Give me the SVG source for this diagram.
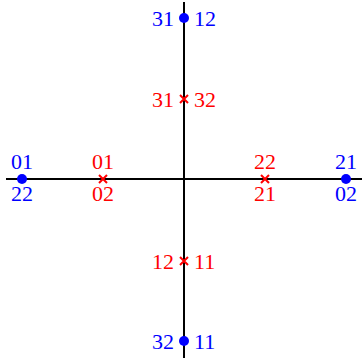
<svg xmlns="http://www.w3.org/2000/svg" width="362" height="362" viewBox="0 0 362 362">
<style>
text{font-family:"Liberation Serif","DejaVu Serif",serif;font-size:22px}
.b{fill:#0000ff}.r{fill:#ff0000}
.m{text-anchor:middle}.e{text-anchor:end}
.x{stroke:#ff0000;stroke-width:2;fill:none}
</style>
<rect width="362" height="362" fill="#fff"/>
<g id="axes"><line x1="6" y1="179" x2="362" y2="179" stroke="#000" stroke-width="2"/><line x1="184" y1="2" x2="184" y2="358" stroke="#000" stroke-width="2"/></g>
<g id="top"><circle cx="184" cy="18" r="5" class="b"/><text x="174" y="25.5" class="b e">31</text><text x="194" y="25.5" class="b">12</text></g>
<g id="bottom"><circle cx="184" cy="341" r="5" class="b"/><text x="174" y="348.5" class="b e">32</text><text x="194" y="348.5" class="b">11</text></g>
<g id="left"><circle cx="22" cy="179" r="5" class="b"/><text x="22" y="169" class="b m">01</text><text x="22" y="201" class="b m">22</text></g>
<g id="right"><circle cx="346" cy="179" r="5" class="b"/><text x="346" y="169" class="b m">21</text><text x="346" y="201" class="b m">02</text></g>
<g id="xtop"><path d="M180,95L188,103M188,95L180,103" class="x"/><text x="174" y="106.5" class="r e">31</text><text x="194" y="106.5" class="r">32</text></g>
<g id="xbottom"><path d="M180,257L188,265M188,257L180,265" class="x"/><text x="174" y="268.5" class="r e">12</text><text x="194" y="268.5" class="r">11</text></g>
<g id="xleft"><path d="M99,175L107,183M107,175L99,183" class="x"/><text x="103" y="169" class="r m">01</text><text x="103" y="201" class="r m">02</text></g>
<g id="xright"><path d="M261,175L269,183M269,175L261,183" class="x"/><text x="265" y="169" class="r m">22</text><text x="265" y="201" class="r m">21</text></g>
</svg>
